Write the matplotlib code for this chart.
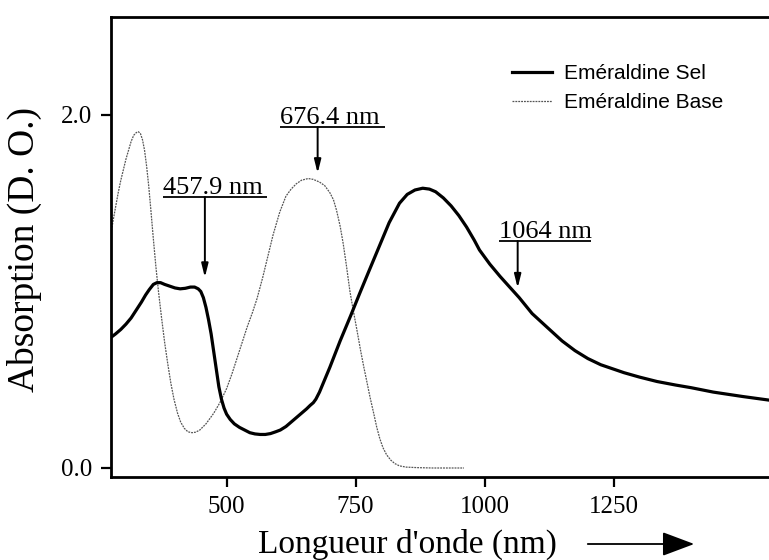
import matplotlib
matplotlib.use("Agg")
import matplotlib.pyplot as plt

# ---------------- data ----------------
sel_nm = [276, 285, 295, 305, 315, 325, 335, 343, 350, 358, 365, 372, 380, 390, 400,
          410, 420, 430, 438, 445, 450, 455, 460, 465, 470, 475, 480, 485, 490, 495,
          500, 507, 515, 525, 535, 545, 555, 565, 575, 585, 595, 604, 615, 625, 635,
          645, 655, 662, 668, 673, 680, 690, 700, 720, 740, 758, 775, 795, 815, 835,
          850, 865, 880, 893, 905, 920, 935, 950, 965, 980, 990, 1010, 1030, 1050, 1067,
          1092, 1120, 1150, 1175, 1200, 1225, 1245, 1270, 1300, 1334, 1370, 1400, 1443, 1500, 1550]
sel_abs = [0.74, 0.76, 0.785, 0.815, 0.85, 0.895, 0.94, 0.98, 1.01, 1.04, 1.05, 1.05, 1.04, 1.03, 1.02,
           1.015, 1.018, 1.025, 1.025, 1.015, 1.0, 0.965, 0.91, 0.84, 0.76, 0.66, 0.56, 0.46, 0.39, 0.34,
           0.305, 0.275, 0.25, 0.23, 0.215, 0.20, 0.193, 0.19, 0.19, 0.195, 0.205, 0.215, 0.235, 0.26, 0.285,
           0.31, 0.335, 0.355, 0.37, 0.39, 0.43, 0.50, 0.57, 0.72, 0.86, 0.99, 1.11, 1.25, 1.39, 1.50,
           1.55, 1.575, 1.585, 1.58, 1.565, 1.53, 1.485, 1.43, 1.365, 1.29, 1.235, 1.155, 1.085, 1.02, 0.965,
           0.875, 0.80, 0.72, 0.665, 0.62, 0.585, 0.565, 0.54, 0.515, 0.49, 0.47, 0.455, 0.43, 0.405, 0.385]

base_nm = [276, 280, 285, 290, 295, 300, 305, 310, 315, 320, 325, 329, 333, 337, 341,
           345, 349, 353, 358, 363, 368, 374, 380, 386, 392, 398, 405, 411, 418, 425,
           433, 440, 448, 460, 475, 487, 500, 510, 520, 530, 540, 550, 559, 570, 580,
           590, 603, 615, 625, 635, 645, 658, 668, 680, 690, 700, 707, 713, 720, 726,
           732, 739, 745, 752, 760, 766, 771, 778, 785, 791, 797, 803, 810, 818, 826,
           835, 848, 870, 900, 960]
base_abs = [1.33, 1.40, 1.48, 1.56, 1.63, 1.69, 1.75, 1.80, 1.85, 1.885, 1.90, 1.905, 1.895, 1.86, 1.80,
            1.71, 1.60, 1.47, 1.30, 1.14, 1.00, 0.85, 0.71, 0.59, 0.48, 0.39, 0.31, 0.26, 0.225, 0.205,
            0.20, 0.203, 0.215, 0.25, 0.31, 0.37, 0.45, 0.53, 0.62, 0.71, 0.80, 0.88, 0.96, 1.08, 1.20,
            1.32, 1.45, 1.54, 1.58, 1.61, 1.63, 1.64, 1.635, 1.62, 1.60, 1.56, 1.52, 1.46, 1.37, 1.27,
            1.15, 1.00, 0.90, 0.79, 0.66, 0.57, 0.50, 0.40, 0.31, 0.23, 0.165, 0.115, 0.075, 0.045, 0.025,
            0.012, 0.005, 0.002, 0.0, 0.0]

series_labels = ["Eméraldine Sel", "Eméraldine Base"]

ann_labels = ["457.9 nm", "676.4 nm", "1064 nm"]
ann_x = [457.9, 676.4, 1064]
ann_tip_y = [1.08, 1.67, 1.02]
ann_line_y = [1.535, 1.93, 1.286]
ann_text_x0 = [376, 603, 1028]
ann_text_x1 = [579, 806, 1206]

xticks = [500, 750, 1000, 1250]
yticks = [0.0, 2.0]
ytick_labels = ["0.0", "2.0"]

# ---------------- figure ----------------
W, H = 769, 560
fig = plt.figure(figsize=(W / 100, H / 100), dpi=100)
ax = fig.add_axes([111 / W, 1 - 477 / H, (W - 111) / W, (477 - 17) / H])

serif = ["Liberation Serif", "DejaVu Serif"]
sans = ["Liberation Sans", "DejaVu Sans"]

ax.plot(sel_nm, sel_abs, color="black", lw=2.3, label=series_labels[0], zorder=3)
ax.plot(base_nm, base_abs, color="#555555", lw=0.9, ls=(0, (1.5, 0.8)),
        label=series_labels[1], zorder=2)

ax.set_xlim(276, 1551)
ax.set_ylim(-0.051, 2.555)

ax.set_xticks(xticks)
ax.set_xticklabels([str(t) for t in xticks], family=serif, fontsize=18)
ax.set_yticks(yticks)
ax.set_yticklabels(ytick_labels, family=serif, fontsize=18)
ax.tick_params(direction="out", length=7.5, width=1.6, pad=6)

for s in ["left", "bottom", "top"]:
    ax.spines[s].set_linewidth(2.0)
ax.spines["right"].set_visible(False)

# annotations
for lab, xa, ty, ly, x0, x1 in zip(ann_labels, ann_x, ann_tip_y, ann_line_y,
                                   ann_text_x0, ann_text_x1):
    ax.plot([x0, x1], [ly, ly], color="black", lw=1.3, solid_capstyle="butt")
    ax.text(x0, ly + 0.018, lab, family=serif, fontsize=19, ha="left", va="baseline")
    ax.annotate("", xy=(xa, ty), xytext=(xa, ly),
                arrowprops=dict(arrowstyle="-|>,head_length=0.8,head_width=0.2",
                                color="black", lw=1.4, shrinkA=0, shrinkB=0))

# legend
leg = ax.legend(loc="upper left", bbox_to_anchor=(512 / W, 1 - 64 / H),
                bbox_transform=fig.transFigure, frameon=False, borderpad=0,
                borderaxespad=0, handlelength=1.9, handletextpad=0.6,
                labelspacing=0.5, prop={"family": sans, "size": 15})

# axis labels
fig.text(407 / W, 1 - 553 / H, "Longueur d'onde (nm)", family=serif, fontsize=24,
         ha="center", va="baseline")
fig.text(24 / W, 1 - 250 / H, "Absorption (D. O.)", family=serif, fontsize=27,
         ha="center", va="center", rotation=90)
fig.add_artist(matplotlib.patches.FancyArrowPatch(
    (585 / W, 1 - 544 / H), (697 / W, 1 - 544 / H), transform=fig.transFigure,
    arrowstyle="-|>,head_length=8,head_width=3", color="black", lw=1.3,
    mutation_scale=2.5))

fig.savefig("out.png", dpi=100)
